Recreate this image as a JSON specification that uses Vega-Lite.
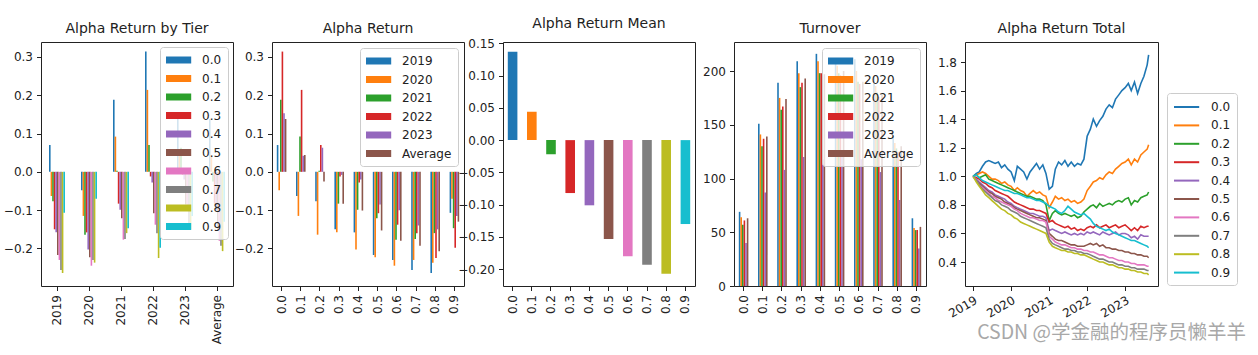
{
  "$schema": "https://vega.github.io/schema/vega-lite/v6.json",
  "background": "white",
  "padding": {"left": 2, "top": 16, "right": 0, "bottom": 6},
  "bounds": "flush",
  "spacing": 39,
  "title": {"text": "CSDN @学金融的程序员懒羊羊", "orient": "bottom", "anchor": "end", "font": "Noto Sans CJK SC", "fontSize": 19.5, "fontWeight": "normal", "color": "#a8a8a8", "offset": -20, "dx": 8, "frame": "bounds"},
  "datasets": {
    "ret": [
      {"y":"2019","t":"0.0","v":0.070},{"y":"2019","t":"0.1","v":-0.063},{"y":"2019","t":"0.2","v":-0.077},{"y":"2019","t":"0.3","v":-0.150},{"y":"2019","t":"0.4","v":-0.158},{"y":"2019","t":"0.5","v":-0.217},{"y":"2019","t":"0.6","v":-0.230},{"y":"2019","t":"0.7","v":-0.256},{"y":"2019","t":"0.8","v":-0.264},{"y":"2019","t":"0.9","v":-0.107},
      {"y":"2020","t":"0.0","v":-0.048},{"y":"2020","t":"0.1","v":-0.115},{"y":"2020","t":"0.2","v":-0.164},{"y":"2020","t":"0.3","v":-0.158},{"y":"2020","t":"0.4","v":-0.203},{"y":"2020","t":"0.5","v":-0.223},{"y":"2020","t":"0.6","v":-0.245},{"y":"2020","t":"0.7","v":-0.230},{"y":"2020","t":"0.8","v":-0.237},{"y":"2020","t":"0.9","v":-0.070},
      {"y":"2021","t":"0.0","v":0.188},{"y":"2021","t":"0.1","v":0.092},{"y":"2021","t":"0.2","v":0.003},{"y":"2021","t":"0.3","v":-0.083},{"y":"2021","t":"0.4","v":-0.099},{"y":"2021","t":"0.5","v":-0.121},{"y":"2021","t":"0.6","v":-0.177},{"y":"2021","t":"0.7","v":-0.175},{"y":"2021","t":"0.8","v":-0.160},{"y":"2021","t":"0.9","v":-0.147},
      {"y":"2022","t":"0.0","v":0.314},{"y":"2022","t":"0.1","v":0.214},{"y":"2022","t":"0.2","v":0.070},{"y":"2022","t":"0.3","v":-0.012},{"y":"2022","t":"0.4","v":-0.028},{"y":"2022","t":"0.5","v":-0.108},{"y":"2022","t":"0.6","v":-0.138},{"y":"2022","t":"0.7","v":-0.160},{"y":"2022","t":"0.8","v":-0.225},{"y":"2022","t":"0.9","v":-0.198},
      {"y":"2023","t":"0.0","v":0.153},{"y":"2023","t":"0.1","v":0.042},{"y":"2023","t":"0.2","v":0.063},{"y":"2023","t":"0.3","v":-0.008},{"y":"2023","t":"0.4","v":-0.020},{"y":"2023","t":"0.5","v":-0.085},{"y":"2023","t":"0.6","v":-0.100},{"y":"2023","t":"0.7","v":-0.140},{"y":"2023","t":"0.8","v":-0.150},{"y":"2023","t":"0.9","v":-0.115},
      {"y":"Average","t":"0.0","v":0.138},{"y":"Average","t":"0.1","v":0.044},{"y":"Average","t":"0.2","v":-0.025},{"y":"Average","t":"0.3","v":-0.083},{"y":"Average","t":"0.4","v":-0.101},{"y":"Average","t":"0.5","v":-0.153},{"y":"Average","t":"0.6","v":-0.180},{"y":"Average","t":"0.7","v":-0.193},{"y":"Average","t":"0.8","v":-0.207},{"y":"Average","t":"0.9","v":-0.130}
    ],
    "mean": [
      {"t":"0.0","v":0.137},{"t":"0.1","v":0.044},{"t":"0.2","v":-0.022},{"t":"0.3","v":-0.082},{"t":"0.4","v":-0.101},{"t":"0.5","v":-0.153},{"t":"0.6","v":-0.180},{"t":"0.7","v":-0.193},{"t":"0.8","v":-0.207},{"t":"0.9","v":-0.130}
    ],
    "turn": [
      {"y":"2019","t":"0.0","v":69},{"y":"2020","t":"0.0","v":64},{"y":"2021","t":"0.0","v":57},{"y":"2022","t":"0.0","v":61},{"y":"2023","t":"0.0","v":40},{"y":"Average","t":"0.0","v":63},
      {"y":"2019","t":"0.1","v":151},{"y":"2020","t":"0.1","v":141},{"y":"2021","t":"0.1","v":130},{"y":"2022","t":"0.1","v":137},{"y":"2023","t":"0.1","v":87},{"y":"Average","t":"0.1","v":139},
      {"y":"2019","t":"0.2","v":189},{"y":"2020","t":"0.2","v":175},{"y":"2021","t":"0.2","v":164},{"y":"2022","t":"0.2","v":167},{"y":"2023","t":"0.2","v":108},{"y":"Average","t":"0.2","v":174},
      {"y":"2019","t":"0.3","v":209},{"y":"2020","t":"0.3","v":198},{"y":"2021","t":"0.3","v":185},{"y":"2022","t":"0.3","v":189},{"y":"2023","t":"0.3","v":120},{"y":"Average","t":"0.3","v":193},
      {"y":"2019","t":"0.4","v":216},{"y":"2020","t":"0.4","v":209},{"y":"2021","t":"0.4","v":198},{"y":"2022","t":"0.4","v":198},{"y":"2023","t":"0.4","v":118},{"y":"Average","t":"0.4","v":197},
      {"y":"2019","t":"0.5","v":212},{"y":"2020","t":"0.5","v":205},{"y":"2021","t":"0.5","v":198},{"y":"2022","t":"0.5","v":196},{"y":"2023","t":"0.5","v":125},{"y":"Average","t":"0.5","v":200},
      {"y":"2019","t":"0.6","v":211},{"y":"2020","t":"0.6","v":200},{"y":"2021","t":"0.6","v":190},{"y":"2022","t":"0.6","v":188},{"y":"2023","t":"0.6","v":118},{"y":"Average","t":"0.6","v":190},
      {"y":"2019","t":"0.7","v":195},{"y":"2020","t":"0.7","v":186},{"y":"2021","t":"0.7","v":180},{"y":"2022","t":"0.7","v":176},{"y":"2023","t":"0.7","v":106},{"y":"Average","t":"0.7","v":178},
      {"y":"2019","t":"0.8","v":140},{"y":"2020","t":"0.8","v":133},{"y":"2021","t":"0.8","v":128},{"y":"2022","t":"0.8","v":125},{"y":"2023","t":"0.8","v":80},{"y":"Average","t":"0.8","v":130},
      {"y":"2019","t":"0.9","v":63},{"y":"2020","t":"0.9","v":54},{"y":"2021","t":"0.9","v":52},{"y":"2022","t":"0.9","v":52},{"y":"2023","t":"0.9","v":35},{"y":"Average","t":"0.9","v":55}
    ],
    "cum": [
      {"d":"2019-01-01","s0":1.00,"s1":1.00,"s2":1.00,"s3":1.00,"s4":1.00,"s5":1.00,"s6":1.00,"s7":1.00,"s8":1.00,"s9":1.00},
      {"d":"2019-02-01","s0":1.02,"s1":1.01,"s2":1.01,"s3":0.99,"s4":0.98,"s5":0.97,"s6":0.97,"s7":0.97,"s8":0.96,"s9":1.01},
      {"d":"2019-03-01","s0":1.03,"s1":1.02,"s2":0.99,"s3":0.98,"s4":0.96,"s5":0.95,"s6":0.94,"s7":0.94,"s8":0.93,"s9":0.99},
      {"d":"2019-04-01","s0":1.07,"s1":1.03,"s2":1.00,"s3":0.96,"s4":0.94,"s5":0.93,"s6":0.92,"s7":0.91,"s8":0.90,"s9":0.97},
      {"d":"2019-05-01","s0":1.10,"s1":1.02,"s2":1.01,"s3":0.95,"s4":0.92,"s5":0.91,"s6":0.90,"s7":0.89,"s8":0.87,"s9":0.96},
      {"d":"2019-06-01","s0":1.11,"s1":1.00,"s2":0.98,"s3":0.93,"s4":0.90,"s5":0.89,"s6":0.88,"s7":0.87,"s8":0.85,"s9":0.95},
      {"d":"2019-07-01","s0":1.10,"s1":0.98,"s2":0.97,"s3":0.92,"s4":0.89,"s5":0.88,"s6":0.86,"s7":0.85,"s8":0.83,"s9":0.94},
      {"d":"2019-08-01","s0":1.09,"s1":0.98,"s2":0.96,"s3":0.90,"s4":0.87,"s5":0.86,"s6":0.85,"s7":0.83,"s8":0.81,"s9":0.93},
      {"d":"2019-09-01","s0":1.10,"s1":0.97,"s2":0.95,"s3":0.89,"s4":0.86,"s5":0.85,"s6":0.83,"s7":0.82,"s8":0.79,"s9":0.92},
      {"d":"2019-10-01","s0":1.06,"s1":0.95,"s2":0.94,"s3":0.88,"s4":0.85,"s5":0.84,"s6":0.82,"s7":0.80,"s8":0.77,"s9":0.91},
      {"d":"2019-11-01","s0":1.08,"s1":0.96,"s2":0.93,"s3":0.87,"s4":0.84,"s5":0.82,"s6":0.81,"s7":0.79,"s8":0.76,"s9":0.90},
      {"d":"2019-12-01","s0":1.05,"s1":0.94,"s2":0.92,"s3":0.86,"s4":0.82,"s5":0.81,"s6":0.80,"s7":0.78,"s8":0.74,"s9":0.90},
      {"d":"2020-01-01","s0":1.03,"s1":0.93,"s2":0.91,"s3":0.84,"s4":0.81,"s5":0.80,"s6":0.79,"s7":0.76,"s8":0.73,"s9":0.89},
      {"d":"2020-02-01","s0":0.97,"s1":0.90,"s2":0.90,"s3":0.82,"s4":0.79,"s5":0.78,"s6":0.77,"s7":0.75,"s8":0.71,"s9":0.88},
      {"d":"2020-03-01","s0":1.07,"s1":0.92,"s2":0.89,"s3":0.81,"s4":0.78,"s5":0.77,"s6":0.76,"s7":0.74,"s8":0.70,"s9":0.88},
      {"d":"2020-04-01","s0":1.05,"s1":0.90,"s2":0.88,"s3":0.80,"s4":0.77,"s5":0.76,"s6":0.74,"s7":0.72,"s8":0.68,"s9":0.87},
      {"d":"2020-05-01","s0":1.03,"s1":0.89,"s2":0.87,"s3":0.79,"s4":0.76,"s5":0.75,"s6":0.73,"s7":0.71,"s8":0.67,"s9":0.86},
      {"d":"2020-06-01","s0":0.98,"s1":0.86,"s2":0.86,"s3":0.78,"s4":0.75,"s5":0.74,"s6":0.72,"s7":0.70,"s8":0.66,"s9":0.85},
      {"d":"2020-07-01","s0":1.03,"s1":0.88,"s2":0.86,"s3":0.77,"s4":0.74,"s5":0.73,"s6":0.71,"s7":0.69,"s8":0.65,"s9":0.85},
      {"d":"2020-08-01","s0":1.06,"s1":0.90,"s2":0.85,"s3":0.77,"s4":0.74,"s5":0.72,"s6":0.71,"s7":0.68,"s8":0.64,"s9":0.84},
      {"d":"2020-09-01","s0":1.09,"s1":0.88,"s2":0.84,"s3":0.76,"s4":0.73,"s5":0.71,"s6":0.70,"s7":0.67,"s8":0.63,"s9":0.83},
      {"d":"2020-10-01","s0":1.05,"s1":0.89,"s2":0.84,"s3":0.76,"s4":0.72,"s5":0.71,"s6":0.69,"s7":0.66,"s8":0.62,"s9":0.83},
      {"d":"2020-11-01","s0":1.08,"s1":0.87,"s2":0.83,"s3":0.75,"s4":0.72,"s5":0.70,"s6":0.69,"s7":0.65,"s8":0.61,"s9":0.82},
      {"d":"2020-12-01","s0":1.02,"s1":0.86,"s2":0.80,"s3":0.74,"s4":0.71,"s5":0.69,"s6":0.68,"s7":0.64,"s8":0.60,"s9":0.81},
      {"d":"2021-01-01","s0":0.91,"s1":0.78,"s2":0.69,"s3":0.68,"s4":0.62,"s5":0.60,"s6":0.58,"s7":0.56,"s8":0.54,"s9":0.79},
      {"d":"2021-02-01","s0":0.93,"s1":0.82,"s2":0.74,"s3":0.69,"s4":0.63,"s5":0.58,"s6":0.56,"s7":0.53,"s8":0.51,"s9":0.78},
      {"d":"2021-03-01","s0":1.05,"s1":0.86,"s2":0.76,"s3":0.67,"s4":0.62,"s5":0.56,"s6":0.54,"s7":0.52,"s8":0.50,"s9":0.77},
      {"d":"2021-04-01","s0":1.10,"s1":0.84,"s2":0.74,"s3":0.66,"s4":0.61,"s5":0.55,"s6":0.53,"s7":0.51,"s8":0.49,"s9":0.75},
      {"d":"2021-05-01","s0":1.08,"s1":0.85,"s2":0.73,"s3":0.65,"s4":0.60,"s5":0.55,"s6":0.52,"s7":0.50,"s8":0.48,"s9":0.74},
      {"d":"2021-06-01","s0":1.11,"s1":0.83,"s2":0.74,"s3":0.64,"s4":0.61,"s5":0.54,"s6":0.52,"s7":0.49,"s8":0.48,"s9":0.76},
      {"d":"2021-07-01","s0":1.07,"s1":0.84,"s2":0.73,"s3":0.65,"s4":0.60,"s5":0.53,"s6":0.51,"s7":0.49,"s8":0.47,"s9":0.79},
      {"d":"2021-08-01","s0":1.10,"s1":0.82,"s2":0.72,"s3":0.63,"s4":0.59,"s5":0.52,"s6":0.50,"s7":0.48,"s8":0.47,"s9":0.77},
      {"d":"2021-09-01","s0":1.07,"s1":0.83,"s2":0.73,"s3":0.64,"s4":0.60,"s5":0.52,"s6":0.50,"s7":0.48,"s8":0.46,"s9":0.75},
      {"d":"2021-10-01","s0":1.09,"s1":0.81,"s2":0.71,"s3":0.62,"s4":0.59,"s5":0.51,"s6":0.49,"s7":0.47,"s8":0.46,"s9":0.74},
      {"d":"2021-11-01","s0":1.08,"s1":0.82,"s2":0.72,"s3":0.63,"s4":0.60,"s5":0.51,"s6":0.49,"s7":0.47,"s8":0.45,"s9":0.73},
      {"d":"2021-12-01","s0":1.12,"s1":0.84,"s2":0.75,"s3":0.62,"s4":0.59,"s5":0.51,"s6":0.48,"s7":0.46,"s8":0.45,"s9":0.74},
      {"d":"2022-01-01","s0":1.28,"s1":0.90,"s2":0.77,"s3":0.64,"s4":0.61,"s5":0.52,"s6":0.48,"s7":0.46,"s8":0.44,"s9":0.72},
      {"d":"2022-02-01","s0":1.33,"s1":0.93,"s2":0.79,"s3":0.65,"s4":0.60,"s5":0.53,"s6":0.47,"s7":0.45,"s8":0.43,"s9":0.70},
      {"d":"2022-03-01","s0":1.40,"s1":0.96,"s2":0.80,"s3":0.64,"s4":0.61,"s5":0.52,"s6":0.47,"s7":0.44,"s8":0.42,"s9":0.67},
      {"d":"2022-04-01","s0":1.35,"s1":0.97,"s2":0.78,"s3":0.66,"s4":0.60,"s5":0.53,"s6":0.46,"s7":0.43,"s8":0.41,"s9":0.65},
      {"d":"2022-05-01","s0":1.39,"s1":0.99,"s2":0.81,"s3":0.64,"s4":0.59,"s5":0.51,"s6":0.45,"s7":0.42,"s8":0.40,"s9":0.64},
      {"d":"2022-06-01","s0":1.42,"s1":0.98,"s2":0.79,"s3":0.65,"s4":0.61,"s5":0.52,"s6":0.45,"s7":0.42,"s8":0.40,"s9":0.63},
      {"d":"2022-07-01","s0":1.47,"s1":1.01,"s2":0.80,"s3":0.66,"s4":0.60,"s5":0.50,"s6":0.44,"s7":0.41,"s8":0.39,"s9":0.62},
      {"d":"2022-08-01","s0":1.50,"s1":1.03,"s2":0.81,"s3":0.64,"s4":0.59,"s5":0.50,"s6":0.43,"s7":0.40,"s8":0.38,"s9":0.63},
      {"d":"2022-09-01","s0":1.48,"s1":1.02,"s2":0.80,"s3":0.65,"s4":0.60,"s5":0.49,"s6":0.43,"s7":0.40,"s8":0.38,"s9":0.61},
      {"d":"2022-10-01","s0":1.54,"s1":1.05,"s2":0.82,"s3":0.66,"s4":0.61,"s5":0.49,"s6":0.42,"s7":0.39,"s8":0.37,"s9":0.60},
      {"d":"2022-11-01","s0":1.57,"s1":1.07,"s2":0.83,"s3":0.64,"s4":0.59,"s5":0.48,"s6":0.41,"s7":0.38,"s8":0.36,"s9":0.59},
      {"d":"2022-12-01","s0":1.60,"s1":1.09,"s2":0.82,"s3":0.65,"s4":0.60,"s5":0.48,"s6":0.41,"s7":0.38,"s8":0.36,"s9":0.58},
      {"d":"2023-01-01","s0":1.62,"s1":1.10,"s2":0.84,"s3":0.66,"s4":0.60,"s5":0.47,"s6":0.40,"s7":0.37,"s8":0.35,"s9":0.57},
      {"d":"2023-02-01","s0":1.65,"s1":1.12,"s2":0.85,"s3":0.64,"s4":0.59,"s5":0.47,"s6":0.40,"s7":0.37,"s8":0.35,"s9":0.56},
      {"d":"2023-03-01","s0":1.60,"s1":1.08,"s2":0.80,"s3":0.62,"s4":0.57,"s5":0.46,"s6":0.39,"s7":0.36,"s8":0.34,"s9":0.55},
      {"d":"2023-04-01","s0":1.66,"s1":1.12,"s2":0.83,"s3":0.64,"s4":0.58,"s5":0.46,"s6":0.39,"s7":0.36,"s8":0.34,"s9":0.55},
      {"d":"2023-05-01","s0":1.58,"s1":1.10,"s2":0.82,"s3":0.62,"s4":0.56,"s5":0.45,"s6":0.38,"s7":0.35,"s8":0.33,"s9":0.54},
      {"d":"2023-06-01","s0":1.65,"s1":1.15,"s2":0.85,"s3":0.65,"s4":0.59,"s5":0.45,"s6":0.38,"s7":0.35,"s8":0.33,"s9":0.53},
      {"d":"2023-07-01","s0":1.70,"s1":1.17,"s2":0.86,"s3":0.64,"s4":0.58,"s5":0.44,"s6":0.38,"s7":0.35,"s8":0.32,"s9":0.52},
      {"d":"2023-08-01","s0":1.78,"s1":1.19,"s2":0.87,"s3":0.65,"s4":0.58,"s5":0.44,"s6":0.37,"s7":0.34,"s8":0.32,"s9":0.51},
      {"d":"2023-08-15","s0":1.85,"s1":1.22,"s2":0.89,"s3":0.65,"s4":0.58,"s5":0.43,"s6":0.37,"s7":0.34,"s8":0.31,"s9":0.50}
    ]
  },
  "hconcat": [
    {
      "width": 192, "height": 244,
      "title": "Alpha Return by Tier",
      "data": {"name": "ret"},
      "mark": {"type": "bar"},
      "encoding": {
        "x": {"field": "y", "type": "nominal", "sort": ["2019","2020","2021","2022","2023","Average"], "scale": {"paddingInner": 0.5, "paddingOuter": 0.25}, "axis": {"title": null, "labelAngle": 270, "bandPosition": 0.5}},
        "xOffset": {"field": "t", "type": "nominal", "sort": ["0.0","0.1","0.2","0.3","0.4","0.5","0.6","0.7","0.8","0.9"], "scale": {"paddingInner": 0, "paddingOuter": 0}},
        "y": {"field": "v", "type": "quantitative", "scale": {"domain": [-0.298, 0.339], "nice": false, "zero": false}, "axis": {"title": null, "values": [-0.2, -0.1, 0, 0.1, 0.2, 0.3], "format": ".1f"}},
        "color": {"field": "t", "type": "nominal", "sort": ["0.0","0.1","0.2","0.3","0.4","0.5","0.6","0.7","0.8","0.9"], "scale": {"range": ["#1f77b4","#ff7f0e","#2ca02c","#d62728","#9467bd","#8c564b","#e377c2","#7f7f7f","#bcbd22","#17becf"]}, "legend": {"title": null, "orient": "top-right", "offset": 5}}
      }
    },
    {
      "width": 192, "height": 244,
      "title": "Alpha Return",
      "data": {"name": "ret"},
      "mark": {"type": "bar"},
      "encoding": {
        "x": {"field": "t", "type": "nominal", "sort": ["0.0","0.1","0.2","0.3","0.4","0.5","0.6","0.7","0.8","0.9"], "scale": {"paddingInner": 0.5, "paddingOuter": 0.25}, "axis": {"title": null, "labelAngle": 270, "bandPosition": 0.5}},
        "xOffset": {"field": "y", "type": "nominal", "sort": ["2019","2020","2021","2022","2023","Average"], "scale": {"paddingInner": 0, "paddingOuter": 0}},
        "y": {"field": "v", "type": "quantitative", "scale": {"domain": [-0.298, 0.339], "nice": false, "zero": false}, "axis": {"title": null, "values": [-0.2, -0.1, 0, 0.1, 0.2, 0.3], "format": ".1f"}},
        "color": {"field": "y", "type": "nominal", "sort": ["2019","2020","2021","2022","2023","Average"], "scale": {"range": ["#1f77b4","#ff7f0e","#2ca02c","#d62728","#9467bd","#8c564b"]}, "legend": {"title": null, "orient": "top-right", "offset": 6}}
      }
    },
    {
      "width": 192, "height": 244,
      "title": "Alpha Return Mean",
      "data": {"name": "mean"},
      "mark": {"type": "bar"},
      "encoding": {
        "x": {"field": "t", "type": "nominal", "sort": ["0.0","0.1","0.2","0.3","0.4","0.5","0.6","0.7","0.8","0.9"], "scale": {"paddingInner": 0.5, "paddingOuter": 0.25}, "axis": {"title": null, "labelAngle": 270, "bandPosition": 0.5}},
        "y": {"field": "v", "type": "quantitative", "scale": {"domain": [-0.226, 0.152], "nice": false, "zero": false}, "axis": {"title": null, "values": [-0.2, -0.15, -0.1, -0.05, 0, 0.05, 0.1, 0.15], "format": ".2f"}},
        "color": {"field": "t", "type": "nominal", "sort": ["0.0","0.1","0.2","0.3","0.4","0.5","0.6","0.7","0.8","0.9"], "scale": {"range": ["#1f77b4","#ff7f0e","#2ca02c","#d62728","#9467bd","#8c564b","#e377c2","#7f7f7f","#bcbd22","#17becf"]}, "legend": null}
      }
    },
    {
      "width": 192, "height": 244,
      "title": "Turnover",
      "data": {"name": "turn"},
      "mark": {"type": "bar"},
      "encoding": {
        "x": {"field": "t", "type": "nominal", "sort": ["0.0","0.1","0.2","0.3","0.4","0.5","0.6","0.7","0.8","0.9"], "scale": {"paddingInner": 0.5, "paddingOuter": 0.25}, "axis": {"title": null, "labelAngle": 270, "bandPosition": 0.5}},
        "xOffset": {"field": "y", "type": "nominal", "sort": ["2019","2020","2021","2022","2023","Average"], "scale": {"paddingInner": 0, "paddingOuter": 0}},
        "y": {"field": "v", "type": "quantitative", "scale": {"domain": [0, 227], "nice": false, "zero": false}, "axis": {"title": null, "values": [0, 50, 100, 150, 200], "format": "d"}},
        "color": {"field": "y", "type": "nominal", "sort": ["2019","2020","2021","2022","2023","Average"], "scale": {"range": ["#1f77b4","#ff7f0e","#2ca02c","#d62728","#9467bd","#8c564b"]}, "legend": {"title": null, "orient": "top-right", "offset": 6}}
      }
    },
    {
      "width": 193, "height": 244,
      "title": "Alpha Return Total",
      "data": {"name": "cum"},
      "transform": [{"fold": ["s0","s1","s2","s3","s4","s5","s6","s7","s8","s9"], "as": ["t", "v"]}],
      "mark": {"type": "line", "strokeWidth": 1.6},
      "encoding": {
        "x": {"field": "d", "type": "temporal", "scale": {"domain": [{"year": 2018, "month": 10, "date": 15}, {"year": 2023, "month": 11, "date": 13}]}, "axis": {"title": null, "values": [{"year": 2019, "month": 1, "date": 1}, {"year": 2020, "month": 1, "date": 1}, {"year": 2021, "month": 1, "date": 1}, {"year": 2022, "month": 1, "date": 1}, {"year": 2023, "month": 1, "date": 1}], "format": "%Y", "labelAngle": -30, "labelAlign": "right", "labelBaseline": "top"}},
        "y": {"field": "v", "type": "quantitative", "scale": {"domain": [0.232, 1.94], "nice": false, "zero": false}, "axis": {"title": null, "values": [0.4, 0.6, 0.8, 1.0, 1.2, 1.4, 1.6, 1.8], "format": ".1f"}},
        "color": {"field": "t", "type": "nominal", "sort": ["s0","s1","s2","s3","s4","s5","s6","s7","s8","s9"], "scale": {"range": ["#1f77b4","#ff7f0e","#2ca02c","#d62728","#9467bd","#8c564b","#e377c2","#7f7f7f","#bcbd22","#17becf"]}, "legend": {"title": null, "orient": "none", "legendX": 202, "legendY": 51, "labelExpr": "replace(datum.label, 's', '0.')", "symbolType": "M-1,0L2.6,0", "symbolStrokeWidth": 2, "symbolSize": 196, "rowPadding": 4.4}}
      }
    }
  ],
  "resolve": {"scale": {"color": "independent", "x": "independent", "y": "independent", "xOffset": "independent"}, "legend": {"color": "independent"}},
  "config": {
    "font": "DejaVu Sans",
    "view": {"stroke": "#222222", "strokeWidth": 1},
    "axis": {"domain": false, "grid": false, "ticks": true, "tickColor": "#222222", "tickSize": 4.5, "tickWidth": 1, "labelFontSize": 12, "labelColor": "#222222", "labelPadding": 4, "labelFlush": false, "labelOverlap": false},
    "title": {"fontSize": 14, "fontWeight": "normal", "color": "#222222", "offset": 6, "frame": "group"},
    "legend": {"fillColor": "rgba(255,255,255,0.8)", "strokeColor": "#cccccc", "cornerRadius": 3, "padding": 6, "labelFontSize": 12, "labelColor": "#222222", "symbolType": "M-1,-0.5L2.6,-0.5L2.6,0.5L-1,0.5Z", "symbolSize": 196, "symbolStrokeWidth": 0, "symbolOpacity": 1, "labelOffset": 22, "rowPadding": 5.5}
  }
}
